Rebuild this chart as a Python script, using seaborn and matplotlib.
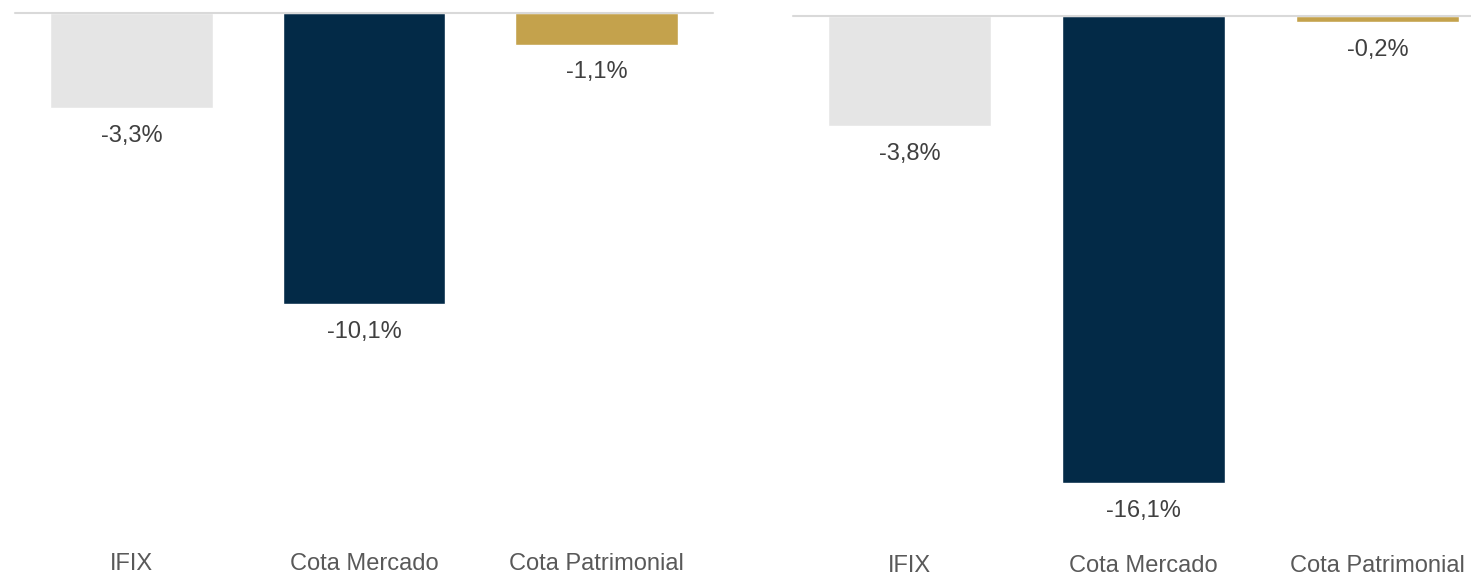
import matplotlib
matplotlib.use('Agg')
import matplotlib.pyplot as plt
import seaborn as sns

# 数据
categorias = ['IFIX', 'Cota Mercado', 'Cota Patrimonial']
valores_esq = [-3.3, -10.1, -1.1]
valores_dir = [-3.8, -16.1, -0.2]
cores = ['#e5e5e5', '#032a47', '#c4a24c']

sns.set_style('white')
plt.rcParams['font.family'] = ['Liberation Sans', 'DejaVu Sans']

W, H = 1471, 576
fig = plt.figure(figsize=(W / 100, H / 100), dpi=100)


def painel(rect, valores, ymin, xmax, pad):
    ax = fig.add_axes(rect)
    sns.barplot(x=categorias, y=valores, hue=categorias, palette=cores,
                width=0.7, saturation=1, legend=False, ax=ax)
    ax.set_xlim(-0.5, xmax)
    ax.set_ylim(ymin, 0)
    ax.axhline(0, color='#d9d9d9', lw=1.5, zorder=5, clip_on=False)
    for s in ax.spines.values():
        s.set_visible(False)
    ax.set_yticks([])
    ax.tick_params(axis='x', length=0, pad=pad, labelsize=17, labelcolor='#595959')
    ax.set_xlabel('')
    ax.set_ylabel('')
    # 数值标签
    for i, v in enumerate(valores):
        ax.annotate(('%.1f%%' % v).replace('.', ','), (i, v), xytext=(0, -20),
                    textcoords='offset points', ha='center', va='center',
                    fontsize=17, color='#404040')
    return ax


# 左图: 轴从 y=13 到 545 像素, 28.8 px/%
painel([15 / W, 1 - 545 / H, 698 / W, 532 / H], valores_esq, -532 / 28.8, 2.5, 6)
# 右图: 轴从 y=16 到 550 像素, 29 px/%
painel([792.5 / W, 1 - 550 / H, 678.5 / W, 534 / H], valores_dir, -534 / 29.0, 2.4, 3.5)

fig.savefig('out.png', dpi=100)
